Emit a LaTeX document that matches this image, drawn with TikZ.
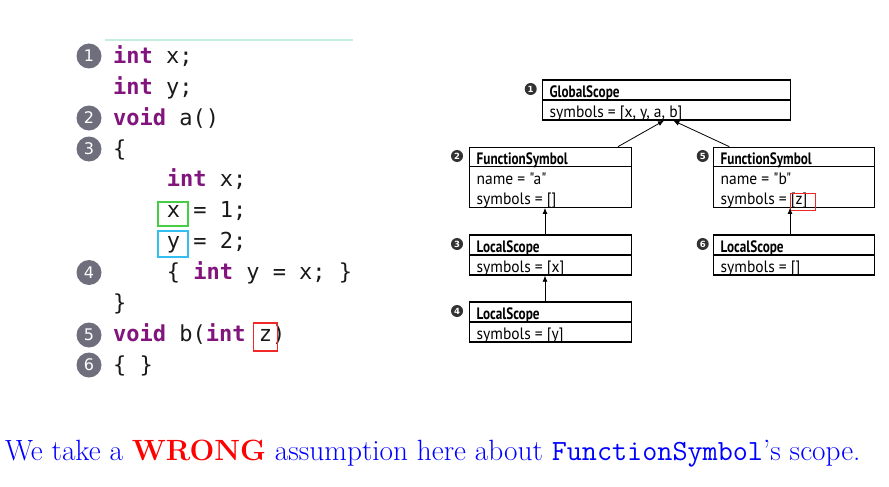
\documentclass[tikz,border=0pt]{standalone}
\usepackage{fontspec}
\usetikzlibrary{arrows.meta}

\newfontfamily\codefont{DejaVu Sans Mono}
\newfontfamily\badgefont{DejaVu Sans}
\newfontfamily\umlfont[FakeStretch=0.94]{PT Sans}
\newfontfamily\umlbold[FakeStretch=0.80]{PT Sans}

\definecolor{kw}{RGB}{130,20,125}
\definecolor{codetext}{RGB}{25,25,25}
\definecolor{badge}{RGB}{110,110,125}
\definecolor{rule}{RGB}{197,238,223}
\definecolor{hlgreen}{RGB}{70,205,70}
\definecolor{hlblue}{RGB}{50,190,240}
\definecolor{hlred}{RGB}{240,40,40}
\definecolor{dot}{RGB}{50,50,50}

\newcommand{\kw}[1]{\textcolor{kw}{\bfseries #1}}

\tikzset{
  codeline/.style={anchor=base west, inner sep=0pt, font=\codefont\fontsize{22}{26}\selectfont, text=codetext},
  codebadge/.style={circle, fill=badge, inner sep=0pt, minimum size=25pt,
    font=\badgefont\fontsize{16}{18}\selectfont, text=white},
  hlbox/.style={rectangle, line width=1.6pt, inner sep=0pt},
  umlbox/.style={rectangle, draw, line width=1.3pt, inner sep=0pt},
  umlhead/.style={anchor=base west, inner sep=0pt, font=\umlbold\bfseries\fontsize{16.5}{19}\selectfont},
  umlrow/.style={anchor=base west, inner sep=0pt, font=\umlfont\fontsize{16.5}{19}\selectfont},
  umldot/.style={circle, fill=dot, inner sep=0pt, minimum size=12pt,
    font=\badgefont\bfseries\fontsize{8.5}{10}\selectfont, text=white},
  umlarrow/.style={draw, line width=0.8pt, -{Latex[length=6pt,width=5pt]}},
}

\begin{document}
\begin{tikzpicture}[x=1pt, y=-1pt]
\useasboundingbox[fill=white] (0,0) rectangle (889,487);

% ---------- source listing ----------
\draw[rule, line width=2.5pt] (105,40) -- (353,40);

\node[codeline] (c1)  at (113,63.3)  {\kw{int} x;};
\node[codeline] (c2)  at (113,94.2)  {\kw{int} y;};
\node[codeline] (c3)  at (113,125.1) {\kw{void} a()};
\node[codeline] (c4)  at (113,156)   {\{};
\node[codeline] (c5)  at (166.6,186.9) {\kw{int} x;};
\node[codeline] (c6)  at (166.6,217.8) {x = 1;};
\node[codeline] (c7)  at (166.6,248.7) {y = 2;};
\node[codeline] (c8)  at (166.6,279.6) {\{ \kw{int} y = x; \}};
\node[codeline] (c9)  at (113,310.5) {\}};
\node[codeline] (c10) at (113,341.4) {\kw{void} b(\kw{int} z)};
\node[codeline] (c11) at (113,372.3) {\{ \}};

\node[codebadge] (b1) at (89,56)  {1};
\node[codebadge] (b2) at (89,118) {2};
\node[codebadge] (b3) at (89,149) {3};
\node[codebadge] (b4) at (89,272.5) {4};
\node[codebadge] (b5) at (89,335) {5};
\node[codebadge] (b6) at (89,365) {6};

\node[hlbox, draw=hlgreen, minimum width=30pt, minimum height=24pt] (hx) at (172.7,213.7) {};
\node[hlbox, draw=hlblue,  minimum width=30pt, minimum height=26pt] (hy) at (172.7,243.7) {};
\node[hlbox, draw=hlred,   minimum width=24pt, minimum height=28pt] (hz) at (265.3,336.7) {};

% ---------- scope tree ----------
% GlobalScope
\node[umlbox, minimum width=248pt, minimum height=40pt] (gs) at (666.7,100) {};
\draw[line width=1.3pt] (gs.west) -- (gs.east);
\node[umlhead] (gsh) at (549.5,97.5) {GlobalScope};
\node[umlrow]  (gsr) at (549.5,117.5) {symbols = [x, y, a, b]};
\node[umldot]  (d1) at (530.7,89) {1};

% FunctionSymbol a
\node[umlbox, minimum width=162.4pt, minimum height=60pt] (fsa) at (550.5,177.3) {};
\draw[line width=1.3pt] ([yshift=-20pt]fsa.north west) -- ([yshift=-20pt]fsa.north east);
\node[umlhead] (fsah) at (476.5,164.8) {FunctionSymbol};
\node[umlrow]  (fsan) at (476.5,184.8) {name = "a"};
\node[umlrow]  (fsas) at (476.5,204.8) {symbols = []};
\node[umldot]  (d2) at (457,156) {2};

% FunctionSymbol b
\node[umlbox, minimum width=161pt, minimum height=60pt] (fsb) at (793.8,177.3) {};
\draw[line width=1.3pt] ([yshift=-20pt]fsb.north west) -- ([yshift=-20pt]fsb.north east);
\node[umlhead] (fsbh) at (720.5,164.8) {FunctionSymbol};
\node[umlrow]  (fsbn) at (720.5,184.8) {name = "b"};
\node[umlrow]  (fsbs) at (720.5,204.8) {symbols = [z]};
\node[umldot]  (d5) at (702.7,156) {5};
\node[rectangle, draw=hlred, line width=0.9pt, minimum width=25pt, minimum height=17pt, inner sep=0pt] (zb) at (802.5,201.7) {};

% LocalScope under a
\node[umlbox, minimum width=162.4pt, minimum height=40pt] (ls3) at (550.5,255) {};
\draw[line width=1.3pt] (ls3.west) -- (ls3.east);
\node[umlhead] (ls3h) at (476.5,252.5) {LocalScope};
\node[umlrow]  (ls3r) at (476.5,272.5) {symbols = [x]};
\node[umldot]  (d3) at (457,244) {3};

% nested LocalScope
\node[umlbox, minimum width=162.4pt, minimum height=40pt] (ls4) at (550.5,322) {};
\draw[line width=1.3pt] (ls4.west) -- (ls4.east);
\node[umlhead] (ls4h) at (476.5,319.5) {LocalScope};
\node[umlrow]  (ls4r) at (476.5,339.5) {symbols = [y]};
\node[umldot]  (d4) at (457,311) {4};

% LocalScope under b
\node[umlbox, minimum width=161pt, minimum height=40pt] (ls6) at (793.8,255) {};
\draw[line width=1.3pt] (ls6.west) -- (ls6.east);
\node[umlhead] (ls6h) at (720.5,252.5) {LocalScope};
\node[umlrow]  (ls6r) at (720.5,272.5) {symbols = []};
\node[umldot]  (d6) at (702.7,244) {6};

% parent links
\path[umlarrow] ([xshift=67.5pt]fsa.north) -- ([xshift=-2.7pt]gs.south);
\path[umlarrow] ([xshift=-64.5pt]fsb.north) -- ([xshift=6.6pt]gs.south);
\path[umlarrow] ([xshift=-5.5pt]ls3.north) -- ([xshift=-5.5pt]fsa.south);
\path[umlarrow] ([xshift=-5.5pt]ls4.north) -- ([xshift=-5.5pt]ls3.north |- ls3.south);
\path[umlarrow] ([xshift=-3.8pt]ls6.north) -- ([xshift=-3.8pt]fsb.south);

% ---------- remark ----------
\node[anchor=base west, inner sep=0pt, text=blue, font=\fontsize{29.3}{34}\selectfont] (note) at (5,460)
  {We take a \textcolor{red}{\textbf{WRONG}} assumption here about \texttt{FunctionSymbol}'s scope.};
\end{tikzpicture}
\end{document}
